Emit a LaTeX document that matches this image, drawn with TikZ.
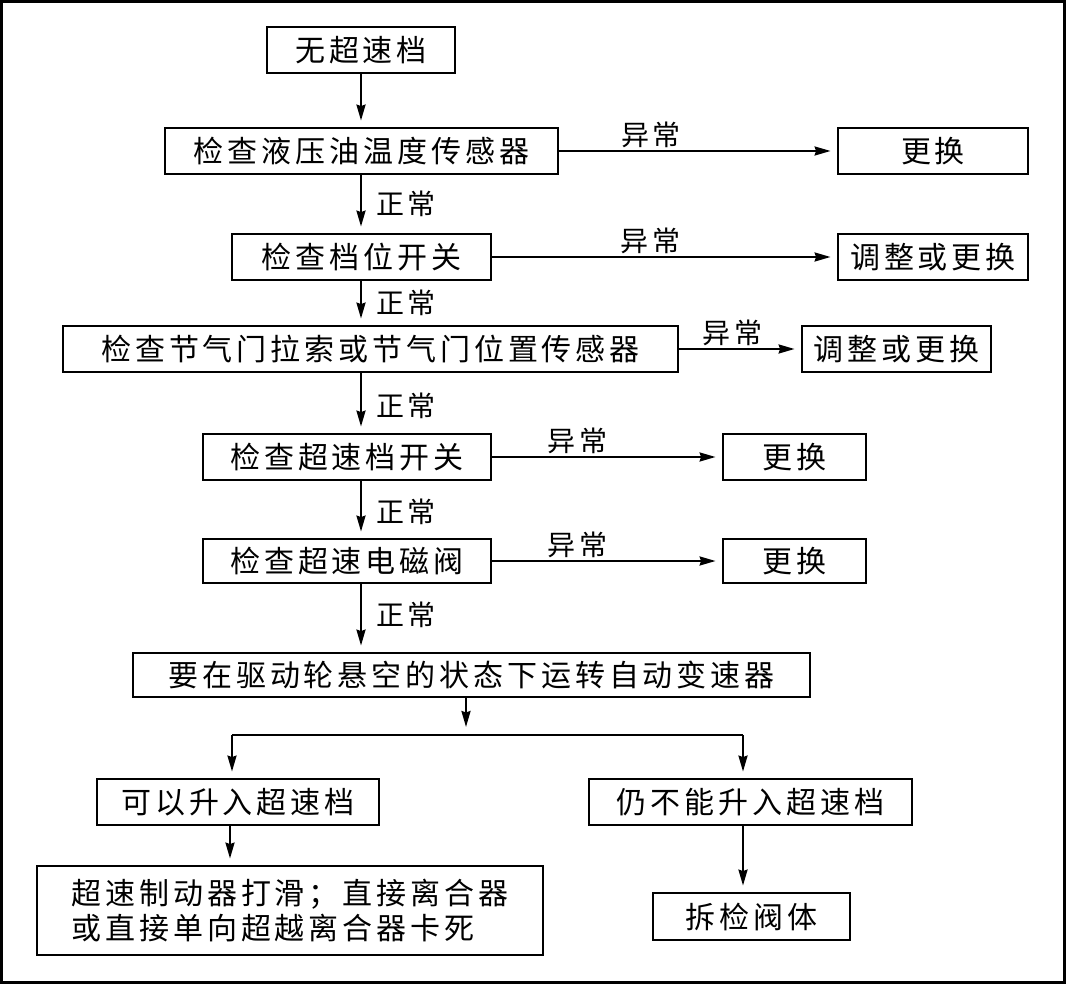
\documentclass[tikz,border=0pt]{standalone}
\usepackage{fontspec}
\setmainfont{Noto Sans CJK SC}[LetterSpace=13]
\usetikzlibrary{arrows.meta}
\begin{document}
\begin{tikzpicture}[x=1pt,y=-1pt,
  box/.style={draw, line width=2.8pt, inner sep=0pt, font=\fontsize{30}{35}\selectfont, anchor=center},
  arr/.style={line width=2.2pt, -{Stealth[length=16pt,width=9pt,inset=1.5pt]}, shorten >=6pt},
  plain/.style={line width=2.2pt},
  lab/.style={font=\fontsize{28}{30}\selectfont, inner sep=2pt}]
\useasboundingbox (0,0) rectangle (1066,984);
\draw[line width=2.8pt] (1.5,1.5) rectangle (1064.5,982.5);

\node[box, minimum width=188pt, minimum height=46pt] (n1) at (361,50) {无超速档};
\node[box, minimum width=393pt, minimum height=46pt] (n2) at (361.5,151) {检查液压油温度传感器};
\node[box, minimum width=190pt, minimum height=46pt] (e2) at (933,151) {更换};
\node[box, minimum width=259pt, minimum height=46pt] (n3) at (361.5,257) {检查档位开关};
\node[box, minimum width=190pt, minimum height=46pt] (e3) at (933,257) {调整或更换};
\node[box, minimum width=615pt, minimum height=46pt] (n4) at (370.5,349) {检查节气门拉索或节气门位置传感器};
\node[box, minimum width=189pt, minimum height=46pt] (e4) at (896.5,349) {调整或更换};
\node[box, minimum width=288pt, minimum height=46pt] (n5) at (347,457) {检查超速档开关};
\node[box, minimum width=143pt, minimum height=46pt] (e5) at (794.5,457) {更换};
\node[box, minimum width=288pt, minimum height=44pt] (n6) at (347,561) {检查超速电磁阀};
\node[box, minimum width=143pt, minimum height=44pt] (e6) at (794.5,561) {更换};
\node[box, minimum width=677pt, minimum height=44pt] (n7) at (471.5,675) {要在驱动轮悬空的状态下运转自动变速器};
\node[box, minimum width=282pt, minimum height=46pt] (n8) at (238,802) {可以升入超速档};
\node[box, minimum width=323pt, minimum height=46pt] (n9) at (750.5,802) {仍不能升入超速档};
\node[box, minimum width=506pt, minimum height=89pt, align=left] (n10) at (290,910.5) {超速制动器打滑；直接离合器\\或直接单向超越离合器卡死};
\node[box, minimum width=197pt, minimum height=47pt] (n11) at (751.5,916.5) {拆检阀体};

\coordinate (ax) at (361,0);
\draw[arr] (n1.south -| ax) -- (n2.north -| ax);
\draw[arr] (n2.south -| ax) -- node[lab, right=12pt, midway]{正常} (n3.north -| ax);
\draw[arr] (n3.south -| ax) -- node[lab, right=12pt, midway]{正常} (n4.north -| ax);
\draw[arr] (n4.south -| ax) -- node[lab, right=12pt, pos=0.55]{正常} (n5.north -| ax);
\draw[arr] (n5.south -| ax) -- node[lab, right=12pt, pos=0.55]{正常} (n6.north -| ax);
\draw[arr] (n6.south -| ax) -- node[lab, right=12pt, pos=0.45]{正常} (n7.north -| ax);

\draw[arr] (n2) -- node[lab, above, pos=0.33]{异常} (e2);
\draw[arr] (n3) -- node[lab, above, pos=0.46]{异常} (e3);
\draw[arr] (n4) -- node[lab, above, pos=0.44]{异常} (e4);
\draw[arr] (n5) -- node[lab, above, pos=0.37]{异常} (e5);
\draw[arr] (n6) -- node[lab, above, pos=0.37]{异常} (e6);

\coordinate (sp) at (466,735);
\coordinate (bl) at (232,735);
\coordinate (br) at (743,735);
\coordinate (ac) at (230,0);
\draw[arr, shorten >=8pt] (n7.south -| sp) -- (sp);
\draw[plain] (bl) -- (br);
\draw[arr] (bl) -- (bl |- n8.north);
\draw[arr] (br) -- (br |- n9.north);
\draw[arr] (n8.south -| ac) -- (n10.north -| ac);
\draw[arr] (n9.south -| br) -- (n11.north -| br);
\end{tikzpicture}
\end{document}
